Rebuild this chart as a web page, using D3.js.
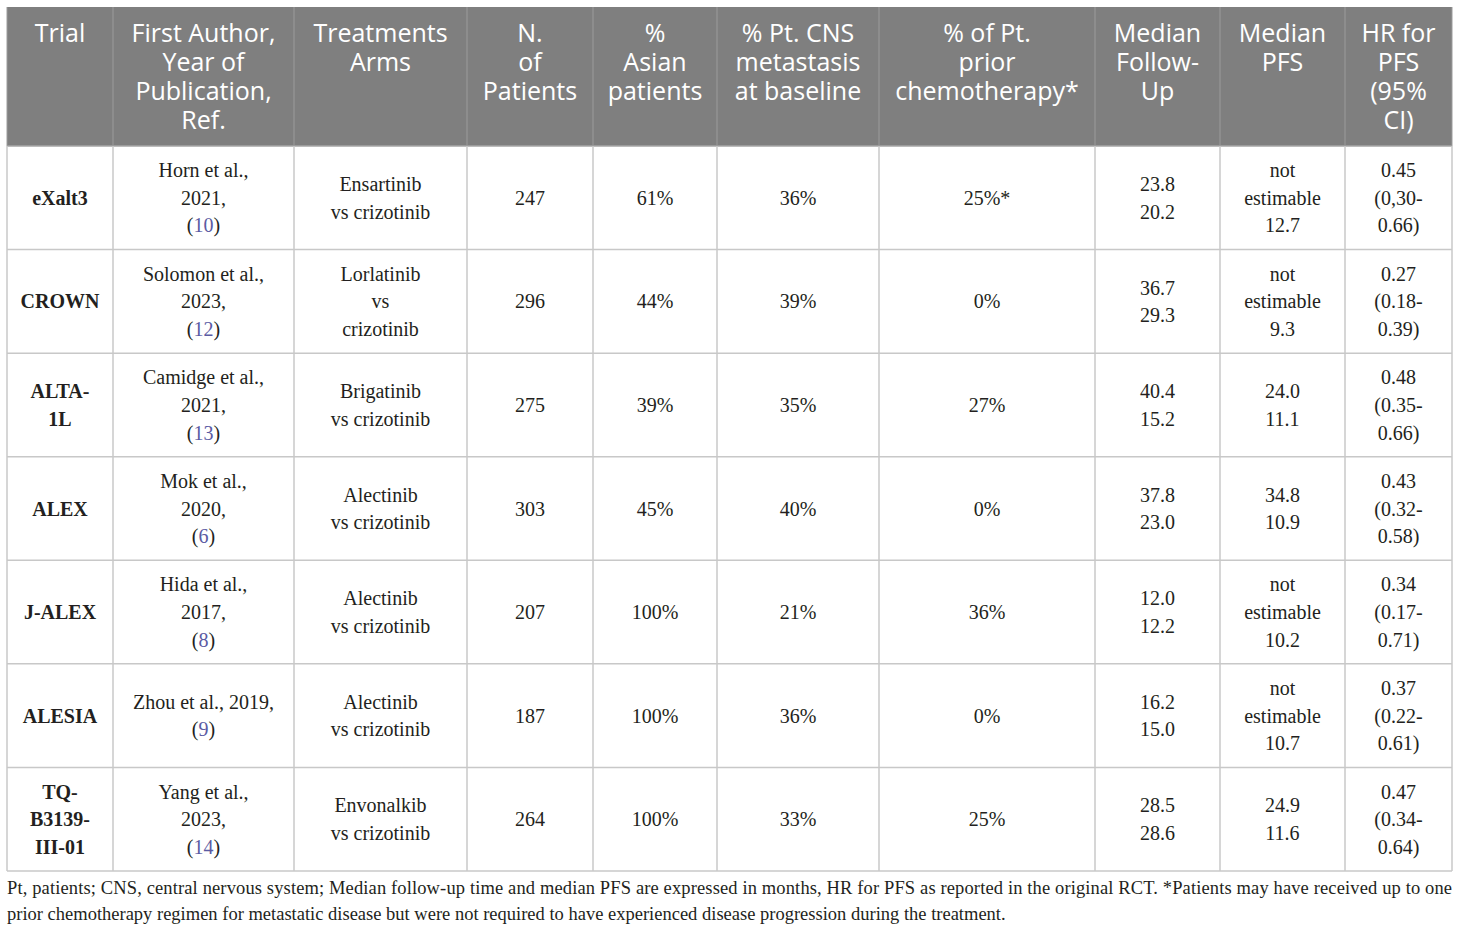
<!DOCTYPE html>
<html>
<head>
<meta charset="utf-8">
<title>ALK trials table</title>
<style>
    body { margin: 0; background: white; }
    .head { font-family: "Open Sans", "Noto Sans", sans-serif; font-size: 25px; fill: white; }
    .cell { font-family: "Liberation Serif", "DejaVu Serif", serif; font-size: 20px; fill: #231f20; }
    .trial { font-weight: bold; }
    .ref { fill: #5b5ba3; }
    .note { font-family: "Liberation Serif", "DejaVu Serif", serif; font-size: 18.5px; fill: #231f20; }
</style>
<script src="https://cdn.jsdelivr.net/npm/d3@7"></script>
</head>
<body>
<div id="chart"></div>
<script>
    // --- data ---
    var headers = [
        ['Trial'],
        ['First Author,', 'Year of', 'Publication,', 'Ref.'],
        ['Treatments', 'Arms'],
        ['N.', 'of', 'Patients'],
        ['%', 'Asian', 'patients'],
        ['% Pt. CNS', 'metastasis', 'at baseline'],
        ['% of Pt.', 'prior', 'chemotherapy*'],
        ['Median', 'Follow-', 'Up'],
        ['Median', 'PFS'],
        ['HR for', 'PFS', '(95%', 'CI)']
    ];

    var trials = [['eXalt3'], ['CROWN'], ['ALTA-', '1L'], ['ALEX'], ['J-ALEX'], ['ALESIA'], ['TQ-', 'B3139-', 'III-01']];
    var authors = [
        ['Horn et al.,', '2021,'],
        ['Solomon et al.,', '2023,'],
        ['Camidge et al.,', '2021,'],
        ['Mok et al.,', '2020,'],
        ['Hida et al.,', '2017,'],
        ['Zhou et al., 2019,'],
        ['Yang et al.,', '2023,']
    ];
    var refs = [10, 12, 13, 6, 8, 9, 14];
    var arms = [
        ['Ensartinib', 'vs crizotinib'],
        ['Lorlatinib', 'vs', 'crizotinib'],
        ['Brigatinib', 'vs crizotinib'],
        ['Alectinib', 'vs crizotinib'],
        ['Alectinib', 'vs crizotinib'],
        ['Alectinib', 'vs crizotinib'],
        ['Envonalkib', 'vs crizotinib']
    ];
    var nPatients = ['247', '296', '275', '303', '207', '187', '264'];
    var asian = ['61%', '44%', '39%', '45%', '100%', '100%', '100%'];
    var cns = ['36%', '39%', '35%', '40%', '21%', '36%', '33%'];
    var priorChemo = ['25%*', '0%', '27%', '0%', '36%', '0%', '25%'];
    var followUp = [['23.8', '20.2'], ['36.7', '29.3'], ['40.4', '15.2'], ['37.8', '23.0'], ['12.0', '12.2'], ['16.2', '15.0'], ['28.5', '28.6']];
    var pfs = [
        ['not', 'estimable', '12.7'],
        ['not', 'estimable', '9.3'],
        ['24.0', '11.1'],
        ['34.8', '10.9'],
        ['not', 'estimable', '10.2'],
        ['not', 'estimable', '10.7'],
        ['24.9', '11.6']
    ];
    var hr = [
        ['0.45', '(0,30-', '0.66)'],
        ['0.27', '(0.18-', '0.39)'],
        ['0.48', '(0.35-', '0.66)'],
        ['0.43', '(0.32-', '0.58)'],
        ['0.34', '(0.17-', '0.71)'],
        ['0.37', '(0.22-', '0.61)'],
        ['0.47', '(0.34-', '0.64)']
    ];
    var notes = [
        'Pt, patients; CNS, central nervous system; Median follow-up time and median PFS are expressed in months, HR for PFS as reported in the original RCT. *Patients may have received up to one',
        'prior chemotherapy regimen for metastatic disease but were not required to have experienced disease progression during the treatment.'
    ];

    // --- layout ---
    var W = 1460, H = 933;
    var colWidths = [106, 181, 173, 126, 124, 162, 216, 125, 125, 107];
    var tableLeft = 7, tableTop = 7, headBottom = 146, tableBottom = 871;
    var lineH = 27.6, headLineH = 29;

    var colEdges = [tableLeft];
    colWidths.forEach(function(w) { colEdges.push(colEdges[colEdges.length - 1] + w); });
    var tableRight = colEdges[colEdges.length - 1];

    function colMid(i) { return (colEdges[i] + colEdges[i + 1]) / 2; }

    var row = d3.scaleBand().domain(d3.range(trials.length)).range([headBottom, tableBottom]);
    function rowTop(r) { return r < trials.length ? row(r) : tableBottom; }

    var svg = d3.select('#chart')
            .append('svg')
            .attr('width', W)
            .attr('height', H);

    // header background
    svg.append('rect')
            .attr('x', tableLeft)
            .attr('y', tableTop)
            .attr('width', tableRight - tableLeft)
            .attr('height', headBottom - tableTop)
            .attr('fill', '#7f7f7f');

    // body cells: one list of lines per column
    var body = trials.map(function(t, r) {
        return [
            { lines: t, cls: 'cell trial' },
            { lines: authors[r].concat(['(' + refs[r] + ')']), ref: true },
            { lines: arms[r] },
            { lines: [nPatients[r]] },
            { lines: [asian[r]] },
            { lines: [cns[r]] },
            { lines: [priorChemo[r]] },
            { lines: followUp[r] },
            { lines: pfs[r] },
            { lines: hr[r] }
        ];
    });

    // grid lines
    var grid = svg.append('g');
    grid.selectAll('line.h')
            .data(d3.range(trials.length + 1))
        .enter().append('line')
            .attr('x1', tableLeft)
            .attr('x2', tableRight)
            .attr('y1', rowTop)
            .attr('y2', rowTop)
            .attr('stroke', function(d) { return d === 0 ? '#a6a6a6' : '#c8c8c8'; })
            .attr('stroke-width', 1.5);

    grid.selectAll('line.vb')
            .data(colEdges)
        .enter().append('line')
            .attr('x1', function(d) { return d; })
            .attr('x2', function(d) { return d; })
            .attr('y1', headBottom)
            .attr('y2', tableBottom)
            .attr('stroke', '#c8c8c8')
            .attr('stroke-width', 1.5);

    grid.selectAll('line.vh')
            .data(colEdges)
        .enter().append('line')
            .attr('x1', function(d) { return d; })
            .attr('x2', function(d) { return d; })
            .attr('y1', tableTop)
            .attr('y2', headBottom)
            .attr('stroke', '#9c9c9c')
            .attr('stroke-width', 1);

    // header text
    svg.selectAll('text.head')
            .data(headers)
        .enter().append('text')
            .attr('class', 'head')
            .attr('text-anchor', 'middle')
            .each(function(lines, i) {
                d3.select(this).selectAll('tspan')
                        .data(lines)
                    .enter().append('tspan')
                        .attr('x', colMid(i))
                        .attr('y', function(d, j) { return 33 + j * headLineH; })
                        .attr('dy', '0.36em')
                        .text(function(d) { return d; });
            });

    // body text
    var rowsG = svg.selectAll('g.row')
            .data(body)
        .enter().append('g')
            .attr('transform', function(d, r) { return 'translate(0,' + (row(r) + row.bandwidth() / 2) + ')'; });

    rowsG.selectAll('text')
            .data(function(d) { return d; })
        .enter().append('text')
            .attr('class', function(d) { return d.cls || 'cell'; })
            .attr('text-anchor', 'middle')
            .each(function(cell, i) {
                var n = cell.lines.length;
                var t = d3.select(this);
                cell.lines.forEach(function(line, j) {
                    var y = (j - (n - 1) / 2) * lineH;
                    var ts = t.append('tspan')
                            .attr('x', colMid(i))
                            .attr('y', y)
                            .attr('dy', '0.35em');
                    if (cell.ref && j === n - 1) {
                        ts.append('tspan').text('(');
                        ts.append('tspan').attr('class', 'ref').text(line.slice(1, -1));
                        ts.append('tspan').text(')');
                    } else {
                        ts.text(line);
                    }
                });
            });

    // footnote
    svg.selectAll('text.note')
            .data(notes)
        .enter().append('text')
            .attr('class', 'note')
            .attr('x', tableLeft)
            .attr('y', function(d, i) { return 888 + i * 26; })
            .attr('dy', '0.35em')
            .attr('textLength', function(d, i) { return i === 0 ? tableRight - tableLeft : null; })
            .attr('lengthAdjust', 'spacing')
            .text(function(d) { return d; });
</script>
</body>
</html>
